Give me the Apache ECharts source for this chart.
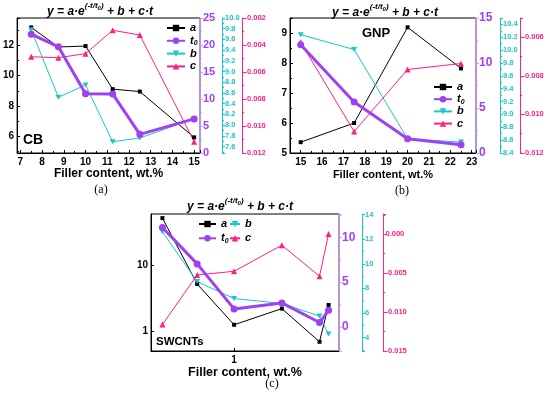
<!DOCTYPE html>
<html><head><meta charset="utf-8">
<script src="https://cdn.jsdelivr.net/npm/echarts@6/dist/echarts.min.js"></script>
<style>html,body{margin:0;padding:0;background:#fff}#c{width:550px;height:395px}</style>
</head><body><div id="c"></div>
<script>
// ---- data (a) CB ----
const xCB  = [7.5, 8.75, 10, 11.25, 12.5, 15];
const aCB  = [13.18, 11.89, 11.95, 9.11, 8.95, 5.93];
const t0CB = [22.0, 19.66, 10.99, 10.94, 3.45, 6.31];
const bCB  = [9.78, 8.52, 8.75, 7.69, 7.76, 8.12];
const cCB  = [-0.00487, -0.00494, -0.00464, -0.00291, -0.00326, -0.01116];
// ---- data (b) GNP ----
const xGNP  = [15, 17.5, 20, 22.5];
const aGNP  = [5.36, 6.0, 9.19, 7.82];
const t0GNP = [12.03, 5.67, 1.59, 0.92];
const bGNP  = [10.24, 10.01, 8.62, 8.57];
const cGNP  = [-0.00626, -0.01089, -0.00767, -0.00736];
// ---- data (c) SWCNTs ----
const xSW  = [0.55, 0.735, 1, 1.49, 2.04, 2.2];
const aSW  = [52, 5.2, 1.25, 2.2, 0.69, 2.5];
const t0SW = [11.1, 7.03, 2.0, 2.67, 0.48, 1.84];
const bSW  = [12.6, 8.55, 7.17, 6.77, 5.74, 4.28];
const cSW  = [-0.0116, -0.00523, -0.00476, -0.00141, -0.0054, 0.00004];
// ---- labels ----
const seriesNames = ['a', 't0', 'b', 'c'];
const xName = 'Filler content, wt.%';
const panelNames = ['CB', 'GNP', 'SWCNTs'];
const panelTags = ['(a)', '(b)', '(c)'];

const FONT = '"Liberation Sans", Arial, sans-serif';
const PUR = '#a040f2', PURAX = '#c89cf2', CY = '#1cc6c6', PK = '#ff1f85';

function f1(v){ return (Math.abs(v) < 1e-9 ? 0 : v).toFixed(1); }
function f3(v){ const n = Math.abs(v) < 1e-12 ? 0 : v; return (n < 0 ? '-' : '') + Math.abs(n).toFixed(3); }

function yAx(p) {
  const ax = {
    type: p.type || 'value', gridIndex: p.gi, position: p.pos, offset: p.offset || 0,
    min: p.min, max: p.max,
    axisLine: { show: true, onZero: false, lineStyle: { color: p.lineColor, width: p.lw || 1 } },
    axisTick: { show: true, inside: !!p.inside, length: 3, lineStyle: { color: p.lineColor } },
    minorTick: { show: p.minor !== false, splitNumber: 2, length: 2, lineStyle: { color: p.lineColor } },
    axisLabel: { color: p.color, fontSize: p.fs, fontWeight: 'bold', fontFamily: FONT, margin: p.margin === undefined ? 3 : p.margin,
      showMinLabel: p.showMin, showMaxLabel: p.showMax, formatter: p.fmt },
    splitLine: { show: false }
  };
  if (p.interval !== undefined) ax.interval = p.interval;
  if (p.splitNumber !== undefined) ax.splitNumber = p.splitNumber;
  if (p.type === 'log') { ax.logBase = 10; ax.minorTick.show = false; }
  return ax;
}
function xAx(gi, min, max, type, nameGap, nameSize) {
  const ax = {
    type: type || 'value', gridIndex: gi, min, max,
    axisLine: { onZero: false, lineStyle: { color: '#000', width: 1 } },
    axisTick: { inside: true, length: 3, lineStyle: { color: '#000' } },
    minorTick: { show: type !== 'log', splitNumber: 2, length: 2, lineStyle: { color: '#000' } },
    axisLabel: { color: '#000', fontSize: 10, fontWeight: 'bold', fontFamily: FONT, margin: 4,
      showMinLabel: false, showMaxLabel: false },
    splitLine: { show: false },
    name: xName, nameLocation: 'middle', nameGap: nameGap,
    nameTextStyle: { color: '#000', fontSize: nameSize || 12, fontWeight: 'bold', fontFamily: FONT }
  };
  if (type === 'log') ax.logBase = 10; else ax.splitNumber = 8;
  return ax;
}
const styles = {
  a:  { color: '#000', symbol: 'rect', size: 4, w: 1 },
  t0: { color: PUR, symbol: 'circle', size: 7, w: 3 },
  b:  { color: CY, symbol: 'path://M0,0L10,0L5,9Z', size: [6, 5], w: 1 },
  c:  { color: PK, symbol: 'triangle', size: 6, w: 1 }
};
function ser(name, gi, yi, xs, ys) {
  const s = styles[name];
  return { type: 'line', name, xAxisIndex: gi, yAxisIndex: yi,
    data: xs.map((x, i) => [x, ys[i]]),
    symbol: s.symbol, symbolSize: s.size, showSymbol: true,
    lineStyle: { color: s.color, width: s.w }, itemStyle: { color: s.color },
    z: name === 't0' ? 3 : 2, animation: false };
}
const legendText = {
  color: '#000', fontSize: 11, fontWeight: 'bold', fontStyle: 'italic', fontFamily: FONT, lineHeight: 12,
  rich: {
    i: { fontSize: 11, fontWeight: 'bold', fontStyle: 'italic', fontFamily: FONT, lineHeight: 12 },
    s: { fontSize: 7, fontWeight: 'bold', fontStyle: 'italic', fontFamily: FONT, verticalAlign: 'bottom', lineHeight: 12 }
  }
};
function legFmt(n){ return n === 't0' ? '{i|t}{s|0}' : '{i|' + n + '}'; }
function legend(left, top, data, gap, iw) {
  return { show: true, orient: 'vertical', left, top, data, selectedMode: false,
    itemWidth: iw || 18, itemHeight: 8, itemGap: gap, padding: 0,
    textStyle: legendText, formatter: legFmt };
}
function formula(x, y) {
  const base = { fontSize: 12, fontWeight: 'bold', fontStyle: 'italic', fontFamily: FONT };
  return { type: 'text', x, y, z: 10,
    style: { text: '{m|y = a·e}{p|(-t/t}{q|0}{p|)}{m| + b + c·t}',
      align: 'center', verticalAlign: 'middle', textAlign: 'center', textVerticalAlign: 'middle', fill: '#000',
      font: 'italic bold 12px ' + FONT,
      rich: {
        m: Object.assign({}, base, { lineHeight: 16, verticalAlign: 'bottom' }),
        p: Object.assign({}, base, { fontSize: 8, lineHeight: 10, verticalAlign: 'top' }),
        q: Object.assign({}, base, { fontSize: 6, lineHeight: 8, verticalAlign: 'top', padding: [3, 0, 0, 0] })
      } } };
}
function txt(x, y, t, font, align) {
  return { type: 'text', x, y, z: 10, style: { text: t, font, fill: '#000',
    align: align || 'center', textAlign: align || 'center', verticalAlign: 'middle', textVerticalAlign: 'middle' } };
}

const option = {
  backgroundColor: '#fff',
  animation: false,
  grid: [
    { left: 14, top: 18, width: 186, height: 135, show: true, borderColor: '#000', borderWidth: 1, backgroundColor: 'transparent' },
    { left: 290, top: 18, width: 186, height: 135, show: true, borderColor: '#000', borderWidth: 1, backgroundColor: 'transparent' },
    { left: 151, top: 214, width: 188, height: 137, show: true, borderColor: '#000', borderWidth: 1, backgroundColor: 'transparent' }
  ],
  xAxis: [
    xAx(0, 6.85, 15.27, 'value', 14, 12),
    xAx(1, 14.5, 23.2, 'value', 16, 11),
    xAx(2, 0.5, 2.4, 'log', 10, 12.5)
  ],
  yAxis: [
    // panel a
    yAx({ gi: 0, pos: 'left', min: 4.9, max: 13.8, color: '#000', lineColor: '#000', fs: 10, inside: true, showMin: false, showMax: false }),
    yAx({ gi: 0, pos: 'right', min: 0, max: 25, interval: 5, color: PUR, lineColor: PURAX, lw: 1.5, fs: 11, showMin: true, showMax: true }),
    yAx({ gi: 0, pos: 'right', offset: 22, min: 7.48, max: 10.0, splitNumber: 12, color: CY, lineColor: CY, fs: 7.5, showMin: false, showMax: true, fmt: f1 }),
    yAx({ gi: 0, pos: 'right', offset: 42, min: -0.012, max: -0.002, interval: 0.002, color: PK, lineColor: PK, fs: 7.5, margin: 2.5, showMin: true, showMax: true, fmt: f3 }),
    // panel b
    yAx({ gi: 1, pos: 'left', min: 5, max: 9.5, interval: 1, color: '#000', lineColor: '#000', fs: 10, inside: true, showMin: true, showMax: false }),
    yAx({ gi: 1, pos: 'right', min: 0, max: 15, interval: 5, color: PUR, lineColor: PURAX, lw: 1.5, fs: 12, showMin: true, showMax: true }),
    yAx({ gi: 1, pos: 'right', offset: 24, min: 8.4, max: 10.5, interval: 0.2, color: CY, lineColor: CY, fs: 7.5, showMin: true, showMax: false, fmt: f1 }),
    yAx({ gi: 1, pos: 'right', offset: 44, min: -0.012, max: -0.005, interval: 0.002, color: PK, lineColor: PK, fs: 7.5, margin: 2.5, showMin: true, showMax: false, fmt: f3 }),
    // panel c
    yAx({ gi: 2, pos: 'left', type: 'log', min: 0.5, max: 60, color: '#000', lineColor: '#000', fs: 10, inside: true, showMin: false, showMax: false }),
    yAx({ gi: 2, pos: 'right', min: -2.7, max: 12.6, splitNumber: 3, color: PUR, lineColor: PURAX, lw: 1.5, fs: 12, showMin: false, showMax: false }),
    yAx({ gi: 2, pos: 'right', offset: 23, min: 2.9, max: 14.05, splitNumber: 5, color: CY, lineColor: CY, fs: 7.5, showMin: false, showMax: false }),
    yAx({ gi: 2, pos: 'right', offset: 44, min: -0.015, max: 0.0026, interval: 0.005, color: PK, lineColor: PK, fs: 7.5, margin: 2.5, showMin: true, showMax: false, fmt: f3 })
  ],
  legend: [
    legend(166, 22, seriesNames, 0.8),
    legend(433, 81, seriesNames, 0.2),
    legend(198, 218, ['a', 't0'], 2.3, 17),
    legend(229, 218, ['b', 'c'], 2.3, 10)
  ],
  series: [
    ser('a', 0, 0, xCB, aCB), ser('t0', 0, 1, xCB, t0CB), ser('b', 0, 2, xCB, bCB), ser('c', 0, 3, xCB, cCB),
    ser('a', 1, 4, xGNP, aGNP), ser('t0', 1, 5, xGNP, t0GNP), ser('b', 1, 6, xGNP, bGNP), ser('c', 1, 7, xGNP, cGNP),
    ser('a', 2, 8, xSW, aSW), ser('t0', 2, 9, xSW, t0SW), ser('b', 2, 10, xSW, bSW), ser('c', 2, 11, xSW, cSW)
  ],
  graphic: [
    formula(100, 10), formula(385, 11), formula(240, 205),
    txt(33, 140, panelNames[0], 'bold 14px ' + FONT),
    txt(376, 33, panelNames[1], 'bold 13px ' + FONT),
    txt(156, 342, panelNames[2], 'bold 11.5px ' + FONT, 'left'),
    txt(101, 190, panelTags[0], '12px "Liberation Serif", serif'),
    txt(402, 191, panelTags[1], '12px "Liberation Serif", serif'),
    txt(272, 384, panelTags[2], '12px "Liberation Serif", serif')
  ]
};
const chart = echarts.init(document.getElementById('c'), null, { renderer: 'canvas' });
chart.setOption(option);
</script>
</body></html>
